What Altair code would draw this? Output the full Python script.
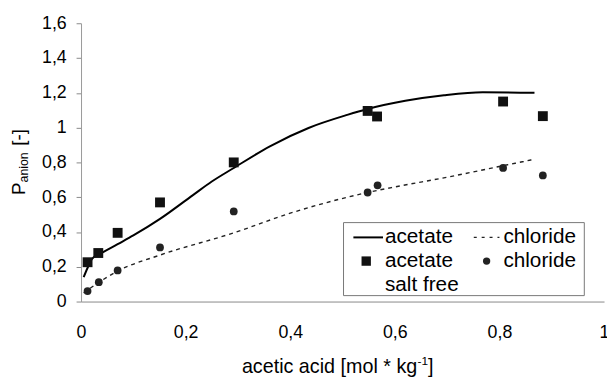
import altair as alt
import pandas as pd

# measured points
acetate_x = [0.0125, 0.033, 0.070, 0.151, 0.292, 0.548, 0.566, 0.807, 0.883]
acetate_y = [0.226, 0.279, 0.395, 0.570, 0.800, 1.096, 1.064, 1.150, 1.066]
chloride_x = [0.0125, 0.034, 0.070, 0.151, 0.292, 0.548, 0.567, 0.807, 0.883]
chloride_y = [0.060, 0.111, 0.179, 0.311, 0.518, 0.627, 0.668, 0.768, 0.725]

# model curves
acetate_fit_x = [0.005, 0.012, 0.021, 0.034, 0.070, 0.100, 0.151, 0.214, 0.250, 0.292, 0.362,
                 0.435, 0.509, 0.548, 0.620, 0.694, 0.768, 0.867]
acetate_fit_y = [0.140, 0.190, 0.245, 0.270, 0.330, 0.380, 0.475, 0.612, 0.690, 0.768, 0.894,
                 0.998, 1.073, 1.107, 1.154, 1.186, 1.203, 1.200]
chloride_fit_x = [0.005, 0.034, 0.070, 0.151, 0.292, 0.400, 0.548, 0.600, 0.700, 0.807, 0.862]
chloride_fit_y = [0.050, 0.110, 0.175, 0.267, 0.395, 0.508, 0.627, 0.659, 0.715, 0.781, 0.815]

x_ticks = [0, 0.2, 0.4, 0.6, 0.8, 1.0]
y_ticks = [0, 0.2, 0.4, 0.6, 0.8, 1.0, 1.2, 1.4, 1.6]

FONT = "Liberation Sans"
W, H = 530, 282
label_expr = "replace(format(datum.value, '~g'), '.', ',')"

xs = alt.Scale(domain=[0, 1], nice=False, zero=False)
ys = alt.Scale(domain=[0, 1.6], nice=False, zero=False)

xaxis = alt.Axis(values=x_ticks, labelExpr=label_expr, title=None, grid=False, ticks=False,
                 domainColor="#888", domainWidth=1, labelFontSize=18, labelFont=FONT,
                 labelColor="black", labelPadding=22, labelFlush=False, labelOverlap=False)
yaxis = alt.Axis(values=y_ticks, labelExpr=label_expr, title=None, grid=False, ticks=True,
                 tickSize=5, tickColor="#888", domainColor="#999", domainWidth=1,
                 labelFontSize=18, labelFont=FONT, labelColor="black", labelPadding=10,
                 labelOverlap=False)

fa = pd.DataFrame({"x": acetate_fit_x, "y": acetate_fit_y})
fc = pd.DataFrame({"x": chloride_fit_x, "y": chloride_fit_y})
pa = pd.DataFrame({"x": acetate_x, "y": acetate_y})
pc = pd.DataFrame({"x": chloride_x, "y": chloride_y})

enc = dict(x=alt.X("x:Q", scale=xs, axis=xaxis), y=alt.Y("y:Q", scale=ys, axis=yaxis))

line_a = alt.Chart(fa).mark_line(color="black", strokeWidth=2, interpolate="monotone").encode(**enc)
line_c = alt.Chart(fc).mark_line(color="#222", strokeWidth=1.4, strokeDash=[4, 4],
                                  interpolate="monotone").encode(**enc)
pts_a = alt.Chart(pa).mark_point(shape="square", filled=True, size=100, color="#111",
                                 opacity=1).encode(**enc)
pts_c = alt.Chart(pc).mark_point(shape="circle", filled=True, size=62, color="#222",
                                 opacity=1).encode(**enc)

one = pd.DataFrame({"a": [0]})


def txt(s, x, y, size=21, angle=0, align="left", baseline="middle"):
    m = dict(text=s, font=FONT, fontSize=size, color="black", align=align, baseline=baseline)
    if angle:
        m["angle"] = angle
    return alt.Chart(one).mark_text(**m).encode(x=alt.value(x), y=alt.value(y))


# legend
box = alt.Chart(one).mark_rect(fill="white", stroke="#777", strokeWidth=1).encode(
    x=alt.value(266), x2=alt.value(510), y=alt.value(202), y2=alt.value(276))
leg_line = alt.Chart(one).mark_rule(color="black", strokeWidth=2).encode(
    x=alt.value(276), x2=alt.value(306), y=alt.value(217))
leg_dash = alt.Chart(one).mark_rule(color="#222", strokeWidth=1.4, strokeDash=[3, 5]).encode(
    x=alt.value(398), x2=alt.value(424), y=alt.value(217))
leg_sq = alt.Chart(one).mark_point(shape="square", filled=True, size=90, color="#111",
                                   opacity=1).encode(x=alt.value(289), y=alt.value(241))
leg_ci = alt.Chart(one).mark_point(shape="circle", filled=True, size=55, color="#222",
                                   opacity=1).encode(x=alt.value(411), y=alt.value(241))

layers = [line_a, line_c, pts_a, pts_c, box, leg_line, leg_dash, leg_sq, leg_ci,
          txt("acetate", 308, 217), txt("chloride", 428, 217),
          txt("acetate", 308, 241), txt("chloride", 428, 241),
          txt("salt free", 308, 265),
          # x title
          txt("acetic acid [mol * kg", 163, 354, size=20, baseline="alphabetic"),
          txt("-1", 341, 346, size=12, baseline="alphabetic"),
          txt("]", 351.5, 354, size=20, baseline="alphabetic"),
          # y title
          txt("P", -57, 174, size=19, angle=270, baseline="alphabetic"),
          txt("anion", -54, 161.3, size=12.5, angle=270, baseline="alphabetic"),
          txt("[-]", -57, 124, size=19, angle=270, baseline="alphabetic"),
          ]

chart = alt.layer(*layers).properties(
    width=W, height=H,
    autosize=alt.AutoSizeParams(type="none"),
    padding={"left": 74, "top": 13, "right": 3, "bottom": 74},
).configure_view(stroke=None)

chart.save("out.html", embed_options={"renderer": "svg", "actions": False})
